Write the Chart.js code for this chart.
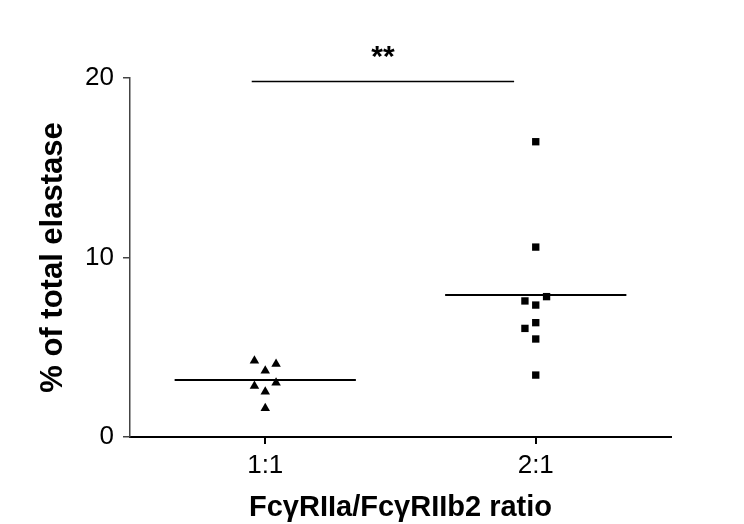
<!DOCTYPE html>
<html>
<head>
<meta charset="utf-8">
<script src="https://cdn.jsdelivr.net/npm/chart.js@4"></script>
<style>
  body { margin: 0; background: #fff; }
  canvas { display: block; }
</style>
</head>
<body>
<canvas id="chart" width="744" height="524"></canvas>
<script>
const categories = ["1:1", "2:1"];

// % of total elastase, one value per donor
const ratio11 = [4.25, 4.07, 3.69, 3.02, 2.84, 2.52, 1.6];
const ratio11X = [0.96, 1.04, 1.0, 1.04, 0.96, 1.0, 1.0];
const ratio21 = [16.45, 10.58, 7.82, 7.58, 7.35, 6.37, 6.05, 5.46, 3.45];
const ratio21X = [2.0, 2.0, 2.04, 1.96, 2.0, 2.0, 1.96, 2.0, 2.0];

const medians = [3.18, 7.91];
const medianHalfWidth = 0.335;

const sigX = [0.95, 1.92];
const sigY = 19.8;
const sigLabel = "**";

const yTicks = [0, 10, 20];

const FONT = "'Liberation Sans', Arial, sans-serif";

function pts(xs, ys) {
  return ys.map((y, i) => ({ x: xs[i], y: y }));
}

function medianLine(i) {
  const c = i + 1;
  return [
    { x: c - medianHalfWidth, y: medians[i] },
    { x: c + medianHalfWidth, y: medians[i] }
  ];
}

const sigText = {
  id: "sigText",
  afterDraw(chart) {
    const { ctx, scales } = chart;
    const x = scales.x.getPixelForValue((sigX[0] + sigX[1]) / 2);
    const y = scales.y.getPixelForValue(sigY);
    ctx.save();
    ctx.fillStyle = "#000";
    ctx.font = "bold 30px " + FONT;
    ctx.textAlign = "center";
    ctx.textBaseline = "middle";
    ctx.fillText(sigLabel, x, y - 24);
    ctx.restore();
  }
};

new Chart(document.getElementById("chart"), {
  type: "scatter",
  data: {
    datasets: [
      {
        data: pts(ratio11X, ratio11),
        pointStyle: "triangle",
        pointRadius: 5.5,
        backgroundColor: "#000",
        borderWidth: 0
      },
      {
        data: pts(ratio21X, ratio21),
        pointStyle: "rect",
        pointRadius: 5.2,
        backgroundColor: "#000",
        borderWidth: 0
      },
      {
        type: "line",
        data: medianLine(0),
        borderColor: "#000",
        borderWidth: 2,
        pointRadius: 0
      },
      {
        type: "line",
        data: medianLine(1),
        borderColor: "#000",
        borderWidth: 2,
        pointRadius: 0
      },
      {
        type: "line",
        data: [{ x: sigX[0], y: sigY }, { x: sigX[1], y: sigY }],
        borderColor: "#000",
        borderWidth: 1.5,
        pointRadius: 0
      }
    ]
  },
  options: {
    responsive: false,
    animation: false,
    layout: { padding: { left: 0, right: 73, top: 78, bottom: 0 } },
    plugins: {
      legend: { display: false },
      tooltip: { enabled: false }
    },
    scales: {
      x: {
        type: "linear",
        min: 0.5,
        max: 2.5,
        afterBuildTicks: (scale) => {
          scale.ticks = categories.map((c, i) => ({ value: i + 1 }));
        },
        afterFit: (scale) => { scale.height = 87; },
        ticks: {
          color: "#000",
          font: { family: FONT, size: 26 },
          padding: 6,
          callback: (v) => categories[v - 1]
        },
        grid: { drawOnChartArea: false, tickLength: 7, color: "#000", lineWidth: 2 },
        border: { color: "#000", width: 2 },
        title: {
          display: true,
          text: "FcγRIIa/FcγRIIb2 ratio",
          color: "#000",
          font: { family: FONT, size: 29, weight: "bold" },
          padding: { top: 0, bottom: -1 }
        }
      },
      y: {
        min: 0,
        max: 20,
        afterBuildTicks: (scale) => {
          scale.ticks = yTicks.map((v) => ({ value: v }));
        },
        afterFit: (scale) => { scale.width = 130; },
        ticks: {
          color: "#000",
          font: { family: FONT, size: 26 },
          padding: 9
        },
        grid: { drawOnChartArea: false, tickLength: 7, color: "#444", lineWidth: 1.5 },
        border: { color: "#444", width: 1.5 },
        title: {
          display: true,
          text: "% of total elastase",
          color: "#000",
          font: { family: FONT, size: 31, weight: "bold" },
          padding: { top: 35, bottom: 0 }
        }
      }
    }
  },
  plugins: [sigText]
});
</script>
</body>
</html>
